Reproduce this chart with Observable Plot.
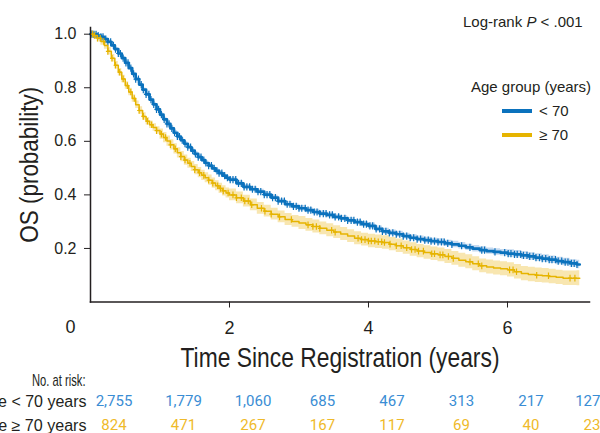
<!DOCTYPE html>
<html>
<head>
<meta charset="utf-8">
<script src="https://cdn.jsdelivr.net/npm/d3@7"></script>
<script src="https://cdn.jsdelivr.net/npm/@observablehq/plot@0.6"></script>
<style>
  body { margin: 0; background: #fff; }
  #wrap { position: relative; width: 600px; height: 433px; overflow: hidden; font-family: "Liberation Sans", Arial, sans-serif; color: #231f20; }
  #wrap svg { display: block; }
  #wrap g[aria-label="y-axis tick label"] { font-size: 16px; font-family: "Liberation Sans", Arial, sans-serif; }
  #wrap g[aria-label="x-axis tick label"] { font-size: 18px; font-family: "Liberation Sans", Arial, sans-serif; }
  .note { position: absolute; white-space: nowrap; font-size: 15px; line-height: 18px; }
  .swatch { position: absolute; width: 30px; height: 3.5px; }
</style>
</head>
<body>
<div id="wrap">
  <div class="note" style="left:463px; top:13px;">Log-rank <i>P</i> &lt; .001</div>
  <div class="note" style="left:471px; top:78px;">Age group (years)</div>
  <div class="swatch" style="left:502px; top:109px; background:#0b72bd;"></div>
  <div class="note" style="left:539px; top:102px;">&lt; 70</div>
  <div class="swatch" style="left:502px; top:133px; background:#e6b400;"></div>
  <div class="note" style="left:539px; top:126px;">&ge; 70</div>
</div>
<script>
// Kaplan–Meier overall survival by age group
const years = [
  0.00, 0.05, 0.10, 0.15, 0.20, 0.25, 0.30, 0.35, 0.40, 0.45,
  0.50, 0.55, 0.60, 0.65, 0.70, 0.75, 0.80, 0.85, 0.90, 0.95,
  1.00, 1.05, 1.10, 1.15, 1.20, 1.25, 1.30, 1.35, 1.40, 1.45,
  1.50, 1.55, 1.60, 1.65, 1.70, 1.75, 1.80, 1.85, 1.90, 1.95,
  2.0, 2.1, 2.2, 2.3, 2.4, 2.5, 2.6, 2.7, 2.8, 2.9,
  3.0, 3.1, 3.2, 3.3, 3.4, 3.5, 3.6, 3.7, 3.8, 3.9,
  4.0, 4.1, 4.2, 4.3, 4.4, 4.5, 4.6, 4.7, 4.8, 4.9,
  5.0, 5.1, 5.2, 5.3, 5.4, 5.5, 5.6, 5.7, 5.8, 5.9,
  6.0, 6.1, 6.2, 6.3, 6.4, 6.5, 6.6, 6.7, 6.8, 6.9,
  7.0, 7.04
];
const survUnder70 = [
  1.000, 0.999, 0.995, 0.990, 0.982, 0.971, 0.958, 0.944, 0.928, 0.911,
  0.893, 0.873, 0.852, 0.832, 0.812, 0.793, 0.775, 0.756, 0.738, 0.719,
  0.700, 0.682, 0.665, 0.648, 0.632, 0.618, 0.604, 0.591, 0.578, 0.565,
  0.553, 0.541, 0.530, 0.519, 0.509, 0.499, 0.490, 0.481, 0.472, 0.464,
  0.457, 0.443, 0.430, 0.421, 0.412, 0.401, 0.390, 0.377, 0.365, 0.357,
  0.350, 0.343, 0.336, 0.330, 0.325, 0.318, 0.312, 0.305, 0.298, 0.291,
  0.284, 0.273, 0.264, 0.258, 0.253, 0.246, 0.240, 0.235, 0.231, 0.227,
  0.224, 0.219, 0.215, 0.210, 0.204, 0.199, 0.194, 0.190, 0.187, 0.184,
  0.181, 0.178, 0.174, 0.170, 0.166, 0.162, 0.158, 0.153, 0.149, 0.144,
  0.140, 0.140
];
const survOver70 = [
  1.000, 0.995, 0.985, 0.973, 0.958, 0.936, 0.910, 0.884, 0.858, 0.833,
  0.808, 0.784, 0.760, 0.737, 0.715, 0.693, 0.675, 0.662, 0.652, 0.640,
  0.627, 0.614, 0.601, 0.587, 0.572, 0.557, 0.543, 0.530, 0.518, 0.506,
  0.494, 0.483, 0.473, 0.464, 0.455, 0.444, 0.434, 0.424, 0.415, 0.407,
  0.400, 0.389, 0.377, 0.363, 0.350, 0.339, 0.328, 0.318, 0.308, 0.301,
  0.295, 0.288, 0.282, 0.275, 0.268, 0.261, 0.254, 0.246, 0.238, 0.233,
  0.228, 0.225, 0.222, 0.216, 0.210, 0.203, 0.196, 0.190, 0.185, 0.180,
  0.176, 0.170, 0.163, 0.156, 0.150, 0.143, 0.135, 0.131, 0.127, 0.124,
  0.120, 0.113, 0.106, 0.103, 0.100, 0.098, 0.095, 0.092, 0.089, 0.089,
  0.089, 0.089
];
// half-width of the 95% confidence band, per year of follow-up
const bandUnder70 = [0.006, 0.008, 0.009, 0.010, 0.011, 0.012, 0.014, 0.016];
const bandOver70  = [0.014, 0.019, 0.022, 0.024, 0.025, 0.026, 0.027, 0.028];
// censoring times (years)
const censorUnder70 = [
  0.02, 0.05, 0.08, 0.11, 0.15, 0.18, 0.22, 0.25, 0.29, 0.33, 0.36, 0.40, 0.43, 0.47,
  0.51, 0.54, 0.58, 0.62, 0.65, 0.69, 0.73, 0.76, 0.80, 0.84, 0.87, 0.91, 0.95, 0.98,
  1.02, 1.06, 1.10, 1.13, 1.17, 1.21, 1.25, 1.28, 1.32, 1.36, 1.40, 1.44, 1.47, 1.51,
  1.55, 1.59, 1.63, 1.66, 1.70, 1.74, 1.78, 1.82, 1.85, 1.89, 1.93, 1.97, 2.01, 2.05,
  2.09, 2.13, 2.17, 2.21, 2.25, 2.29, 2.33, 2.37, 2.41, 2.45, 2.50, 2.54, 2.58, 2.62,
  2.66, 2.70, 2.75, 2.79, 2.83, 2.87, 2.92, 2.96, 3.00, 3.04, 3.09, 3.13, 3.17, 3.22,
  3.26, 3.30, 3.35, 3.39, 3.44, 3.48, 3.52, 3.57, 3.61, 3.66, 3.70, 3.75, 3.79, 3.84,
  3.88, 3.93, 3.97, 4.02, 4.06, 4.11, 4.16, 4.20, 4.25, 4.30, 4.35, 4.40, 4.45, 4.50,
  4.55, 4.60, 4.65, 4.70, 4.75, 4.81, 4.86, 4.90, 4.95, 5.00, 5.05, 5.09, 5.14, 5.20,
  5.34, 5.46, 5.63, 5.67, 5.82, 5.96, 6.01, 6.05, 6.10, 6.14, 6.19, 6.23, 6.28, 6.32,
  6.37, 6.41, 6.46, 6.50, 6.55, 6.60, 6.64, 6.69, 6.73, 6.78, 6.83, 6.87, 6.92, 6.96, 7.00
];
const censorOver70 = [
  0.03, 0.06, 0.10, 0.14, 0.19, 0.25, 0.31, 0.36, 0.42, 0.47, 0.53, 0.58, 0.63, 0.70,
  0.76, 0.82, 0.88, 0.95, 1.02, 1.08, 1.15, 1.22, 1.30, 1.36, 1.43, 1.50, 1.57, 1.63,
  1.70, 1.76, 1.83, 1.87, 1.91, 1.98, 2.05, 2.10, 2.17, 2.22, 2.27, 2.32, 2.46, 2.51,
  2.60, 2.72, 2.89, 3.13, 3.20, 3.25, 3.30, 3.47, 3.52, 3.85, 3.90, 3.95, 4.00, 4.04,
  4.09, 4.14, 4.19, 4.23, 4.31, 4.40, 4.47, 4.55, 4.62, 4.67, 4.72, 4.79, 4.91, 4.95,
  5.03, 5.07, 5.15, 5.22, 5.46, 5.58, 5.63, 6.03, 6.08, 6.13, 6.42, 6.59, 6.90, 6.97
];
// numbers at risk
const riskYears = [0, 1, 2, 3, 4, 5, 6, 7];
const riskUnder70 = ["2,755", "1,779", "1,060", "685", "467", "313", "217", "127"];
const riskOver70  = ["824", "471", "267", "167", "117", "69", "40", "23"];

const lineColors = ["#0b72bd", "#e6b400"];
const bandColors = ["#c6daf0", "#f8e6b0"];
const riskColors = ["#3a8dd4", "#efba2a"];
const sans = "'Liberation Sans', Arial, sans-serif";

const series = [survUnder70, survOver70];
const bands = [bandUnder70, bandOver70];
const censors = [censorUnder70, censorOver70];

function curveRows(g) {
  return years.map((t, i) => {
    const h = bands[g][Math.min(bands[g].length - 1, Math.floor(t))];
    return {t, s: series[g][i], lo: series[g][i] - h, hi: series[g][i] + h};
  });
}
// censor marks sit on the step function at their time
function censorRows(g) {
  return censors[g].map(t => ({t, s: series[g][Math.max(0, d3.bisectRight(years, t) - 1)]}));
}

const rows = [curveRows(0), curveRows(1)];
const cens = [censorRows(0), censorRows(1)];

// censor tick: tall vertical stroke with a short horizontal bar
const censorTick = {
  draw(context, size) {
    const r = Math.sqrt(size / Math.PI);
    context.moveTo(0, -r); context.lineTo(0, r);
    context.moveTo(-r * 0.6, 0); context.lineTo(r * 0.6, 0);
  }
};

const bandMark = g => Plot.areaY(rows[g], {x: "t", y1: "lo", y2: "hi", curve: "step-after", fill: bandColors[g]});
const lineMark = (g, w) => Plot.line(rows[g], {x: "t", y: "s", curve: "step-after", stroke: lineColors[g], strokeWidth: w});
const censorMark = (g, r) => Plot.dot(cens[g], {x: "t", y: "s", symbol: censorTick, r, fill: "none", stroke: lineColors[g], strokeWidth: 1.2});

const riskRows = (vals) => riskYears.map((y, i) => ({year: y, n: vals[i]}));
const riskMarks = (vals, color, dy) => [
  Plot.text(riskRows(vals).filter(d => d.year < 7), {x: "year", text: "n", frameAnchor: "bottom", lineAnchor: "middle", dy, dx: 23.5, fill: color, fontSize: 15, fontFamily: "Roboto, sans-serif"}),
  Plot.text(riskRows(vals).filter(d => d.year === 7), {x: "year", text: "n", frameAnchor: "bottom", lineAnchor: "middle", dy, dx: 23.5, textAnchor: "end", fill: color, fontSize: 15, fontFamily: "Roboto, sans-serif"})
];

const chart = Plot.plot({
  width: 600,
  height: 433,
  marginTop: 27,
  marginBottom: 131.5,
  marginLeft: 90,
  marginRight: 11,
  x: {domain: [0, 7.18]},
  y: {domain: [0, 1.025]},
  style: {background: "transparent", color: "#231f20"},
  marks: [
    bandMark(1),
    bandMark(0),
    lineMark(0, 2.7),
    censorMark(0, 3.6),
    lineMark(1, 1.5),
    censorMark(1, 3.3),
    Plot.frame({anchor: "left", stroke: "#231f20", strokeWidth: 1.5}),
    Plot.frame({anchor: "bottom", stroke: "#231f20", strokeWidth: 1.5}),
    Plot.axisY({ticks: [0.2, 0.4, 0.6, 0.8, 1.0], tickFormat: d3.format(".1f"), tickSize: 6, tickPadding: 8, label: null}),
    Plot.axisX({ticks: [2, 4, 6], tickSize: 6, tickPadding: 13, label: null}),
    Plot.text([0], {x: d => d, text: d => String(d), frameAnchor: "bottom", lineAnchor: "middle", dy: 25.5, dx: -20, fontSize: 18, fontFamily: sans}),
    Plot.text(["Time Since Registration (years)"], {frameAnchor: "bottom", lineAnchor: "middle", dy: 56, fontSize: 27, fontFamily: sans}),
    Plot.text(["OS (probability)"], {frameAnchor: "left", textAnchor: "middle", lineAnchor: "middle", rotate: -90, dx: -61, fontSize: 26, fontFamily: sans}),
    Plot.text(["No. at risk:"], {frameAnchor: "bottom-left", textAnchor: "end", lineAnchor: "middle", dx: -5, dy: 78.5, fontSize: 16, fontFamily: sans}),
    Plot.text(["Age < 70 years"], {frameAnchor: "bottom-left", textAnchor: "end", lineAnchor: "middle", dx: -4, dy: 99.5, fontSize: 16, fontFamily: sans}),
    Plot.text(["Age ≥ 70 years"], {frameAnchor: "bottom-left", textAnchor: "end", lineAnchor: "middle", dx: -4, dy: 123.5, fontSize: 16, fontFamily: sans}),
    ...riskMarks(riskUnder70, riskColors[0], 99.5),
    ...riskMarks(riskOver70, riskColors[1], 123.5)
  ]
});

// condensed set type: squeeze the wide labels to their printed widths
const printedWidth = new Map([
  ["Time Since Registration (years)", 319],
  ["OS (probability)", 156],
  ["Age < 70 years", 108],
  ["Age ≥ 70 years", 108]
]);
// horizontal-only squeeze for the risk-table heading
const squeezeX = new Map([["No. at risk:", 0.7]]);
chart.querySelectorAll("text").forEach(el => {
  const w = printedWidth.get(el.textContent);
  if (w) {
    el.setAttribute("textLength", w);
    el.setAttribute("lengthAdjust", "spacingAndGlyphs");
  }
  const k = squeezeX.get(el.textContent);
  if (k) {
    const t = el.getAttribute("transform") || "";
    el.setAttribute("transform", `${t} scale(${k},1)`.trim());
  }
});

document.getElementById("wrap").prepend(chart);
</script>
</body>
</html>
